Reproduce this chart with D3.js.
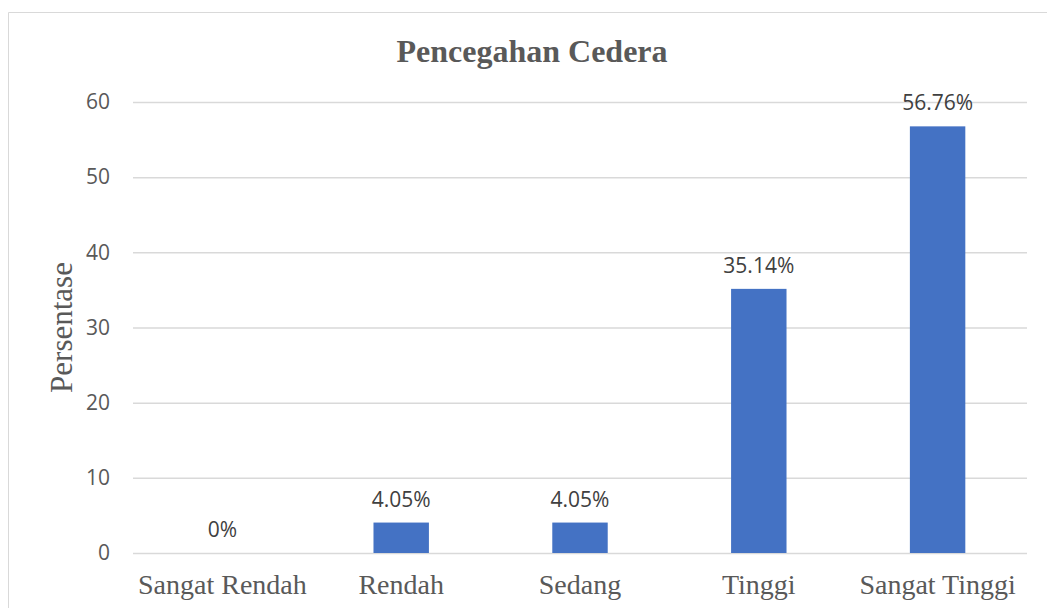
<!DOCTYPE html>
<html>
<head>
<meta charset="utf-8">
<script src="https://cdn.jsdelivr.net/npm/d3@7"></script>
<style>
  body { margin: 0; background: #fff; }
  svg { display: block; }
</style>
</head>
<body>
<svg id="chart"></svg>
<script>
// data
const categories = ["Sangat Rendah", "Rendah", "Sedang", "Tinggi", "Sangat Tinggi"];
const values = [0, 4.05, 4.05, 35.14, 56.76];
const labels = ["0%", "4.05%", "4.05%", "35.14%", "56.76%"];
const yTicks = [0, 10, 20, 30, 40, 50, 60];

const width = 1047;
const height = 608;
const margin = { top: 102, right: 20, bottom: 55, left: 133 };

const svg = d3.select("#chart").attr("width", width).attr("height", height);

// chart frame
svg.append("path")
  .attr("d", `M8.5,${height} V12.5 H${width}`)
  .attr("fill", "none")
  .attr("stroke", "#d9d9d9")
  .attr("stroke-width", 1);

const x = d3.scaleBand()
  .domain(categories)
  .range([margin.left, width - margin.right])
  .paddingInner(0.69)
  .paddingOuter(0.345);

const y = d3.scaleLinear()
  .domain([0, 60])
  .range([height - margin.bottom, margin.top]);

// gridlines + y labels
const yAxis = (g) =>
  g.attr("transform", `translate(${margin.left},0)`)
    .call(d3.axisLeft(y).tickValues(yTicks).tickSize(-(width - margin.left - margin.right)).tickPadding(23))
    .call((g) => g.select(".domain").remove())
    .call((g) => g.selectAll(".tick line").attr("stroke", "#d9d9d9").attr("stroke-width", 1.5))
    .call((g) => g.selectAll(".tick text")
      .attr("fill", "#595959")
      .attr("font-family", "'Open Sans', sans-serif")
      .attr("font-size", 21));
svg.append("g").call(yAxis);

// bars
svg.append("g")
  .selectAll("rect")
  .data(values)
  .join("rect")
  .attr("x", (d, i) => x(categories[i]))
  .attr("y", (d) => y(d))
  .attr("width", x.bandwidth())
  .attr("height", (d) => y(0) - y(d))
  .attr("fill", "#4472c4");

// data labels
svg.append("g")
  .selectAll("text")
  .data(values)
  .join("text")
  .attr("x", (d, i) => x(categories[i]) + x.bandwidth() / 2)
  .attr("y", (d) => y(d) - 16)
  .attr("text-anchor", "middle")
  .attr("fill", "#404040")
  .attr("font-family", "'Open Sans', sans-serif")
  .attr("font-size", 21)
  .text((d, i) => labels[i]);

// x labels
const xAxis = (g) =>
  g.attr("transform", `translate(0,${height - margin.bottom})`)
    .call(d3.axisBottom(x).tickSize(0).tickPadding(21))
    .call((g) => g.select(".domain").remove())
    .call((g) => g.selectAll(".tick text")
      .attr("fill", "#595959")
      .attr("font-family", "'Liberation Serif', 'Times New Roman', serif")
      .attr("font-size", 28));
svg.append("g").call(xAxis);

// title
svg.append("text")
  .attr("x", 532)
  .attr("y", 62)
  .attr("text-anchor", "middle")
  .attr("fill", "#595959")
  .attr("font-family", "'Liberation Serif', 'Times New Roman', serif")
  .attr("font-weight", "bold")
  .attr("font-size", 32)
  .text("Pencegahan Cedera");

// y title
svg.append("text")
  .attr("transform", `translate(72,${(y(0) + y(60)) / 2}) rotate(-90)`)
  .attr("text-anchor", "middle")
  .attr("fill", "#595959")
  .attr("font-family", "'Liberation Serif', 'Times New Roman', serif")
  .attr("font-size", 31)
  .text("Persentase");
</script>
</body>
</html>
